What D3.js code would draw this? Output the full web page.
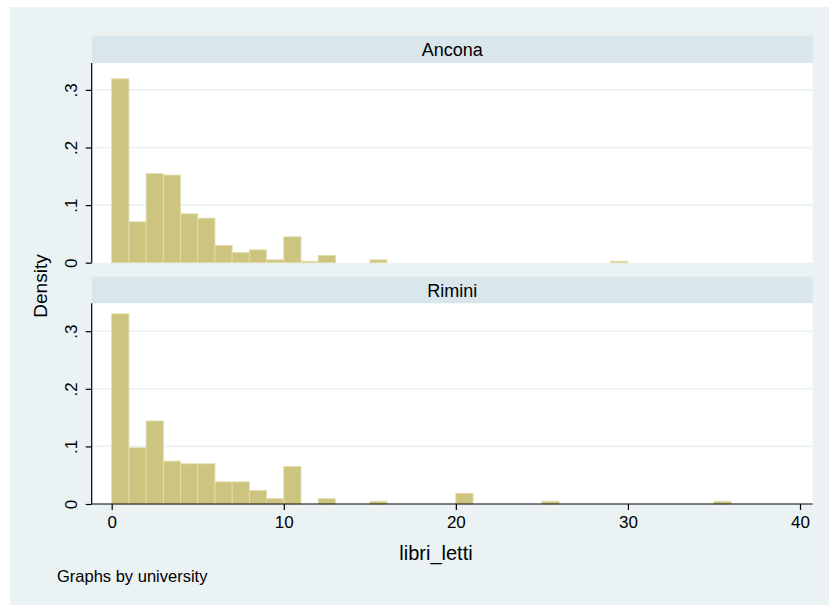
<!DOCTYPE html>
<html>
<head>
<meta charset="utf-8">
<script src="https://cdn.jsdelivr.net/npm/d3@7"></script>
<style>
  html, body { margin: 0; padding: 0; background: #fff; }
  text { font-family: "Liberation Sans", Arial, Helvetica, sans-serif; fill: #000; }
</style>
</head>
<body>
<svg id="chart" width="829" height="605"></svg>
<script>
// Histogram of libri_letti by university (bin width 1, density scale)
const binStarts = d3.range(0, 36);
const anconaDensity = [
  0.3192, 0.0710, 0.1546, 0.1521, 0.0848, 0.0773, 0.0299, 0.0175, 0.0224, 0.0050,
  0.0449, 0.0025, 0.0125, 0, 0, 0.0050, 0, 0, 0, 0,
  0, 0, 0, 0, 0, 0, 0, 0, 0, 0.0025,
  0, 0, 0, 0, 0, 0
];
const riminiDensity = [
  0.3302, 0.0977, 0.1442, 0.0744, 0.0698, 0.0698, 0.0384, 0.0384, 0.0233, 0.0093,
  0.0651, 0, 0.0093, 0, 0, 0.0047, 0, 0, 0, 0,
  0.0186, 0, 0, 0, 0, 0.0047, 0, 0, 0, 0,
  0, 0, 0, 0, 0, 0.0047
];
const panelNames = ["Ancona", "Rimini"];
const xTicks = [0, 10, 20, 30, 40];
const yTicks = [0, 0.1, 0.2, 0.3];
const yTickLabels = ["0", ".1", ".2", ".3"];

const svg = d3.select("#chart");
const W = 829, H = 605;

const bgColor = "#eaf2f3";
const stripColor = "#d9e6eb";
const barFill = "#ccc47f";
const barLine = "#e3ddab";

// graph region
svg.append("rect").attr("x", 10).attr("y", 7).attr("width", W - 10).attr("height", H - 7)
  .attr("fill", bgColor);

const plotLeft = 91.7, plotRight = 812.7;
const x = d3.scaleLinear().domain([0, 40]).range([111.7, 800]);

const panels = [
  { name: panelNames[0], values: anconaDensity, stripTop: 35.7, plotTop: 63, base: 262.7, bottomAxis: false },
  { name: panelNames[1], values: riminiDensity, stripTop: 276.7, plotTop: 303.3, base: 504, bottomAxis: true }
];

panels.forEach(p => {
  const y = d3.scaleLinear().domain([0, 0.3]).range([p.base, p.base - 172.8]);
  const g = svg.append("g");

  // strip with panel name
  g.append("rect").attr("x", plotLeft).attr("y", p.stripTop)
    .attr("width", plotRight - plotLeft).attr("height", p.plotTop - p.stripTop)
    .attr("fill", stripColor);
  g.append("text").attr("x", (plotLeft + plotRight) / 2).attr("y", (p.stripTop + p.plotTop) / 2 + 6.5)
    .attr("text-anchor", "middle").attr("font-size", 18).text(p.name);

  // plot region
  g.append("rect").attr("x", plotLeft).attr("y", p.plotTop)
    .attr("width", plotRight - plotLeft).attr("height", p.base - p.plotTop)
    .attr("fill", "#fff");

  // grid lines
  g.selectAll("line.grid").data(yTicks.filter(t => t > 0)).join("line")
    .attr("class", "grid")
    .attr("x1", plotLeft).attr("x2", plotRight)
    .attr("y1", d => y(d)).attr("y2", d => y(d))
    .attr("stroke", bgColor).attr("stroke-width", 1.6);

  // bars
  const bars = binStarts.map((s, i) => ({ x0: s, x1: s + 1, v: p.values[i] })).filter(d => d.v > 0);
  g.selectAll("rect.bar").data(bars).join("rect")
    .attr("class", "bar")
    .attr("x", d => x(d.x0)).attr("width", d => x(d.x1) - x(d.x0))
    .attr("y", d => y(d.v)).attr("height", d => y(0) - y(d.v))
    .attr("fill", barFill).attr("stroke", barLine).attr("stroke-width", 0.9);

  // y axis
  const yAxis = d3.axisLeft(y).tickValues(yTicks).tickSize(6)
    .tickFormat((d, i) => yTickLabels[i]);
  const ya = g.append("g").attr("transform", `translate(${plotLeft},0)`).call(yAxis);
  ya.select(".domain").attr("d", `M0,${p.plotTop}V${p.base}`).attr("stroke", "#000").attr("stroke-width", 1.2);
  ya.selectAll(".tick line").attr("stroke", "#000").attr("stroke-width", 1.2);
  ya.selectAll(".tick text")
    .attr("font-size", 17).attr("fill", "#000")
    .attr("x", null).attr("dy", null)
    .attr("text-anchor", "middle")
    .attr("transform", "translate(-14.5,0) rotate(-90)");

  if (p.bottomAxis) {
    const xAxis = d3.axisBottom(x).tickValues(xTicks).tickSize(6).tickFormat(d3.format("d"));
    const xa = g.append("g").attr("transform", `translate(0,${p.base})`).call(xAxis);
    xa.select(".domain").attr("d", `M${plotLeft},0H${plotRight}`).attr("stroke", "#000").attr("stroke-width", 1.2);
    xa.selectAll(".tick line").attr("stroke", "#000").attr("stroke-width", 1.2);
    xa.selectAll(".tick text").attr("font-size", 17).attr("fill", "#000").attr("y", 12).attr("dy", "0.71em");
  }
});

// axis titles and note
svg.append("text").attr("x", 436).attr("y", 560).attr("text-anchor", "middle")
  .attr("font-size", 20).text("libri_letti");
svg.append("text").attr("transform", "translate(46.5,286) rotate(-90)").attr("text-anchor", "middle")
  .attr("font-size", 19).text("Density");
svg.append("text").attr("x", 57).attr("y", 582).attr("font-size", 16.5).text("Graphs by university");
</script>
</body>
</html>
